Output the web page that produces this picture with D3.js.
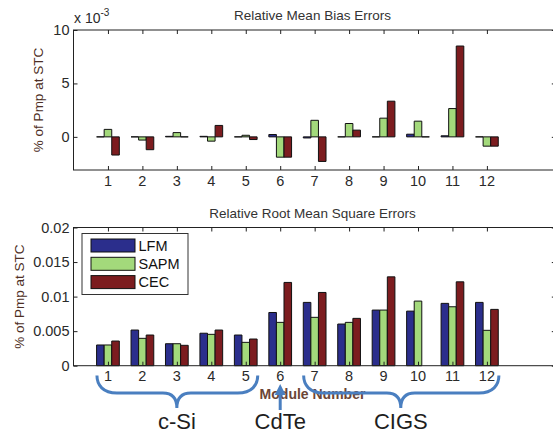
<!DOCTYPE html>
<html>
<head>
<meta charset="utf-8">
<script src="https://cdn.jsdelivr.net/npm/d3@7"></script>
<style>
  html, body { margin: 0; padding: 0; background: #fff; }
  svg { display: block; }
  text { font-family: "Liberation Sans", Arial, sans-serif; }
</style>
</head>
<body>
<div id="chart"></div>
<script>
// Module numbers on the x axis
const modules = [1, 2, 3, 4, 5, 6, 7, 8, 9, 10, 11, 12];
const seriesNames = ["LFM", "SAPM", "CEC"];
const seriesColors = ["#2b2e8c", "#a3d97b", "#7c1c1f"];

// Relative mean bias errors (fraction of Pmp at STC)
const mbeLFM  = [0, 0, 0.00005, 0.00005, 0, 0.00022, -0.0001, 0, 0, 0.00025, 0.0001, 0];
const mbeSAPM = [0.0007, -0.0003, 0.0004, -0.0004, 0.00015, -0.0019, 0.00155, 0.00125, 0.00175, 0.00147, 0.00265, -0.00087];
const mbeCEC  = [-0.0017, -0.0012, 0, 0.00107, -0.00025, -0.0019, -0.0023, 0.00063, 0.00334, 0, 0.0085, -0.00087];

// Relative root mean square errors (fraction of Pmp at STC)
const rmseLFM  = [0.0030, 0.00516, 0.00318, 0.0047, 0.00444, 0.0077, 0.00916, 0.00603, 0.00805, 0.0079, 0.00902, 0.00916];
const rmseSAPM = [0.0030, 0.00396, 0.00318, 0.00454, 0.00338, 0.00627, 0.0070, 0.00627, 0.00805, 0.00935, 0.00853, 0.00512];
const rmseCEC  = [0.00357, 0.00444, 0.00295, 0.00516, 0.00386, 0.01205, 0.0106, 0.00685, 0.01286, null, 0.01214, 0.00815];

const mbeTicks = [0, 0.005, 0.01];
const rmseTicks = [0, 0.005, 0.01, 0.015, 0.02];

// Technology groups annotated below the lower panel
const groups = [
  { label: "c-Si", from: 1, to: 5, kind: "brace" },
  { label: "CdTe", from: 6, to: 6, kind: "arrow" },
  { label: "CIGS", from: 7, to: 12, kind: "brace" }
];

const W = 553, H = 434;
const svg = d3.select("#chart").append("svg").attr("width", W).attr("height", H);

const x = d3.scaleLinear().domain([0, 14]).range([73.5, 555.8]);
const barW = 0.22;
const offsets = [-barW, 0, barW];

function panel(cfg) {
  const y = d3.scaleLinear().domain(cfg.domain).range([cfg.bottom, cfg.top]);
  const g = svg.append("g");

  // bars (paths so zero-height bars still show as a line)
  const series = cfg.data;
  series.forEach((vals, si) => {
    g.append("g").selectAll("path")
      .data(modules.map((m, i) => ({ m, v: vals[i] })).filter(d => d.v !== null))
      .join("path")
      .attr("d", d => {
        const cx = x(d.m + offsets[si]);
        const x0 = cx - x(barW / 2) + x(0), x1 = cx + x(barW / 2) - x(0);
        const y0 = y(0), y1 = y(d.v);
        return `M${x0},${y0}H${x1}V${y1}H${x0}Z`;
      })
      .attr("fill", seriesColors[si])
      .attr("stroke", "#111")
      .attr("stroke-width", 1);
  });

  // frame
  g.append("rect")
    .attr("x", x(0)).attr("y", cfg.top)
    .attr("width", x(14) - x(0)).attr("height", cfg.bottom - cfg.top)
    .attr("fill", "none").attr("stroke", "#222").attr("stroke-width", 1);

  // inward ticks on all four sides
  const tl = 4;
  g.append("g").call(d3.axisBottom(x).tickValues(modules).tickSize(tl).tickFormat(""))
    .attr("transform", `translate(0,${cfg.top})`)
    .call(a => a.select(".domain").remove())
    .call(a => a.selectAll("line").attr("stroke", "#222"));
  g.append("g").call(d3.axisTop(x).tickValues(modules).tickSize(tl).tickFormat(""))
    .attr("transform", `translate(0,${cfg.bottom})`)
    .call(a => a.select(".domain").remove())
    .call(a => a.selectAll("line").attr("stroke", "#222"));
  g.append("g").call(d3.axisRight(y).tickValues(cfg.ticks).tickSize(tl).tickFormat(""))
    .attr("transform", `translate(${x(0)},0)`)
    .call(a => a.select(".domain").remove())
    .call(a => a.selectAll("line").attr("stroke", "#222"));
  g.append("g").call(d3.axisLeft(y).tickValues(cfg.ticks).tickSize(tl).tickFormat(""))
    .attr("transform", `translate(${x(14)},0)`)
    .call(a => a.select(".domain").remove())
    .call(a => a.selectAll("line").attr("stroke", "#222"));

  // tick labels
  g.append("g").selectAll("text").data(cfg.ticks).join("text")
    .attr("x", 69.5).attr("y", d => y(d) + 5)
    .attr("text-anchor", "end").attr("font-size", 14.5).attr("fill", "#2a2a2a")
    .text(cfg.fmt);
  g.append("g").selectAll("text").data(modules).join("text")
    .attr("x", d => x(d)).attr("y", cfg.bottom + 15.5)
    .attr("text-anchor", "middle").attr("font-size", 14.5).attr("fill", "#2a2a2a")
    .text(d => d);

  // title
  g.append("text").attr("x", 312.5).attr("y", cfg.top - 10)
    .attr("text-anchor", "middle").attr("font-size", 13.5).attr("fill", "#333")
    .text(cfg.title);

  // y label
  g.append("text")
    .attr("transform", `translate(${cfg.labelX},${(cfg.top + cfg.bottom) / 2}) rotate(-90)`)
    .attr("text-anchor", "middle").attr("font-size", 13.5).attr("fill", "#4d2e24")
    .text("% of Pmp at STC");
  return y;
}

panel({
  domain: [-0.0031, 0.01], top: 30, bottom: 170, labelX: 42.5,
  data: [mbeLFM, mbeSAPM, mbeCEC], ticks: mbeTicks,
  fmt: d => d3.format("d")(d * 1000),
  title: "Relative Mean Bias Errors"
});

// exponent label of the upper panel
const ex = svg.append("text").attr("x", 74).attr("y", 23).attr("font-size", 14).attr("fill", "#2a2a2a");
ex.append("tspan").text("x 10");
ex.append("tspan").attr("dy", -7).attr("font-size", 10).text("-3");

panel({
  domain: [0, 0.02], top: 227.5, bottom: 365.7, labelX: 24,
  data: [rmseLFM, rmseSAPM, rmseCEC], ticks: rmseTicks,
  fmt: d => d === 0 ? "0" : String(+d.toFixed(3)),
  title: "Relative Root Mean Square Errors"
});

// legend
const lg = svg.append("g");
lg.append("rect").attr("x", 82).attr("y", 233.5).attr("width", 106).attr("height", 61)
  .attr("fill", "#fff").attr("stroke", "#333").attr("stroke-width", 1);
seriesNames.forEach((name, i) => {
  const yy = 239 + i * 18.3;
  lg.append("rect").attr("x", 91).attr("y", yy).attr("width", 44).attr("height", 13)
    .attr("fill", seriesColors[i]).attr("stroke", "#111").attr("stroke-width", 1);
  lg.append("text").attr("x", 138.5).attr("y", yy + 11.5)
    .attr("font-size", 14.5).attr("fill", "#111").text(name);
});

// x axis label
svg.append("text").attr("x", 312.5).attr("y", 398.5)
  .attr("text-anchor", "middle").attr("font-size", 14).attr("font-weight", "bold")
  .attr("fill", "#6b4535").text("Module Number");

// technology group annotations
const annBlue = "#4a7fc0";
const ann = svg.append("g");
groups.forEach(gr => {
  const cx = (x(gr.from) + x(gr.to)) / 2;
  if (gr.kind === "brace") {
    const xl = x(gr.from) - 11, xr = x(gr.to) + 12;
    const yTop = 375.5, yMid = 393, yTip = 408;
    const p = d3.path();
    p.moveTo(xl, yTop);
    p.bezierCurveTo(xl, yMid - 8, xl + 6, yMid, xl + 20, yMid);
    p.lineTo(cx - 14, yMid);
    p.bezierCurveTo(cx - 5, yMid, cx, yMid + 5, cx, yTip);
    p.bezierCurveTo(cx, yMid + 5, cx + 5, yMid, cx + 14, yMid);
    p.lineTo(xr - 20, yMid);
    p.bezierCurveTo(xr - 6, yMid, xr, yMid - 8, xr, yTop);
    ann.append("path").attr("d", p.toString())
      .attr("fill", "none").attr("stroke", annBlue).attr("stroke-width", 3);
  } else {
    ann.append("line").attr("x1", cx).attr("x2", cx).attr("y1", 410).attr("y2", 392)
      .attr("stroke", annBlue).attr("stroke-width", 3);
    ann.append("path").attr("d", `M${cx},384L${cx - 5.5},395L${cx + 5.5},395Z`).attr("fill", annBlue);
  }
  ann.append("text").attr("x", cx).attr("y", 429)
    .attr("text-anchor", "middle")
    .attr("font-family", "'Open Sans', 'Noto Sans', sans-serif")
    .attr("font-size", 22).attr("fill", "#1e1e1e").text(gr.label);
});
</script>
</body>
</html>
